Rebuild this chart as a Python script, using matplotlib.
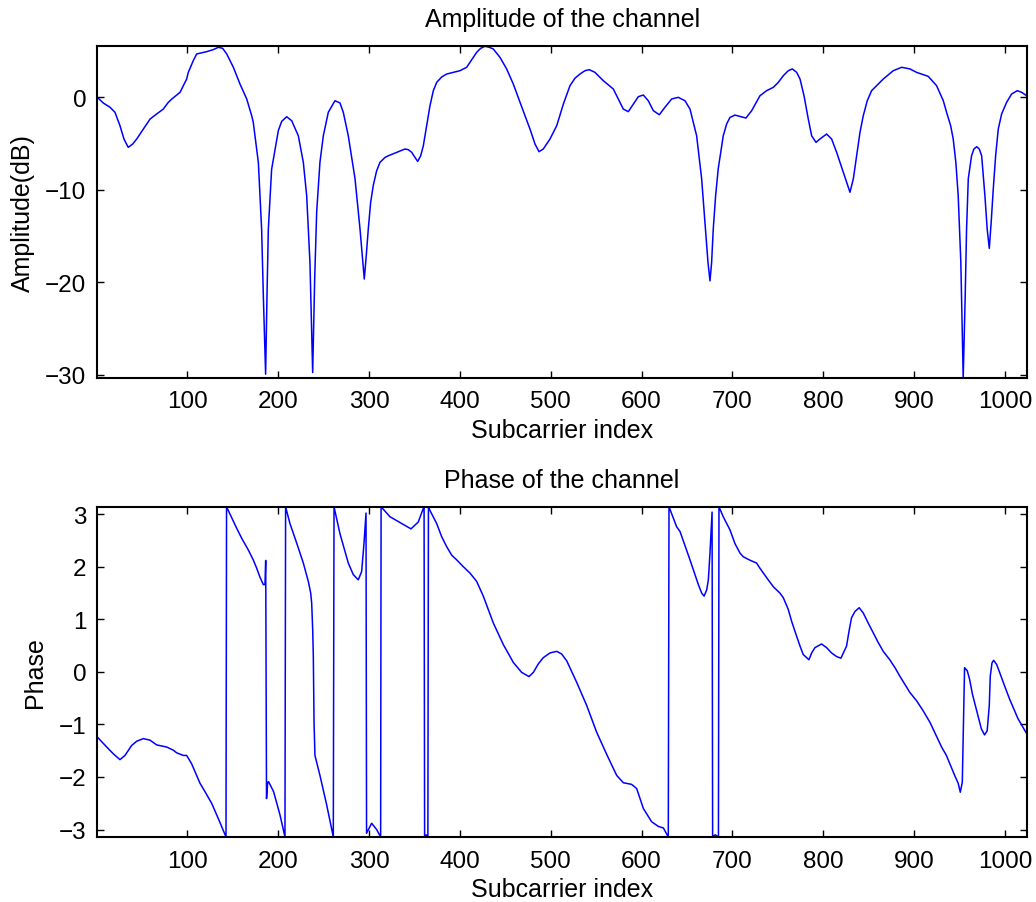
import numpy as np
import matplotlib
matplotlib.use("Agg")
import matplotlib.pyplot as plt

# ---------------- data ----------------
amp_x = [1, 7.6, 15, 20.4, 25.9, 30.3, 35, 39.9, 44.3, 51.6, 59, 66.3, 73.6,
         79.1, 83, 92, 95.6, 99.3, 101.1, 106.6, 110.3, 121.3, 128.6, 134.1,
         138.9, 143.4, 150.7, 158, 165.4, 170.9, 172.6, 178.2, 180, 181.8,
         183.7, 186.2, 187.7, 189.2, 192.8, 200.2, 203.9, 209.4, 214.9, 222.2,
         227.7, 231.4, 235, 238, 240.2, 242.4, 246, 249.7, 255.2, 262.5, 268,
         271.7, 277.2, 284.6, 290.1, 292.6, 294.8, 297, 299.2, 301.8, 304.7,
         308.4, 312.1, 317.6, 321.3, 330.5, 339.6, 343.2, 347, 350.6, 353.6,
         356.9, 359.8, 363.5, 367.1, 370.8, 374.5, 380, 385.5, 392.8, 400.1,
         407.5, 413, 418.5, 422.9, 427.6, 432.4, 436.8, 444.1, 451.5, 458.8,
         466.2, 471.7, 477.2, 482.7, 487.1, 491.8, 499.2, 506.6, 513.9, 521.2,
         526.7, 532.2, 537.7, 542.5, 548.7, 557.9, 568.9, 574.4, 579.9, 585.4,
         590.9, 596.4, 601.9, 607.4, 612.9, 619.5, 625.7, 633.1, 640.4, 647.8,
         653.3, 658.8, 660.6, 666.1, 670.9, 673.1, 675.3, 677.1, 678.9, 681.5,
         684.4, 689.9, 693.6, 697.3, 702.8, 708.3, 714.9, 721.2, 730.3, 737.6,
         745, 750.5, 756, 761.5, 765.9, 770.7, 774.4, 778.8, 783.5, 787.2, 792,
         796.3, 803.7, 809.2, 814.7, 822, 829.4, 833.1, 836.7, 840.4, 844,
         848.4, 853.2, 858.7, 866, 877, 886.2, 895.4, 902.7, 915.5, 924.7,
         932.1, 935.7, 940.2, 943, 945.9, 948.5, 951.4, 954, 956.2, 957.7,
         959.6, 963.2, 965.8, 968.8, 971.7, 974.3, 977.9, 980.4, 982.7, 984.8,
         987.1, 989.7, 992.6, 996.3, 1001.8, 1007.3, 1013.5, 1018.3, 1024]
amp_db = [0, -0.62, -1.08, -1.62, -3.07, -4.51, -5.41, -5.05, -4.51, -3.43,
          -2.35, -1.8, -1.27, -0.54, -0.18, 0.54, 1.26, 1.98, 2.7, 3.97, 4.69,
          4.94, 5.16, 5.41, 5.3, 4.69, 3.25, 1.44, -0.18, -2.0, -2.7, -7.03,
          -10.64, -14.25, -21.5, -29.95, -21.5, -14.25, -7.8, -3.6, -2.6, -2.1,
          -2.53, -4.16, -7.03, -10.64, -17.86, -29.77, -19.66, -12.4, -7.03,
          -4.16, -1.62, -0.37, -0.6, -1.62, -4.16, -8.8, -14.25, -17.1, -19.66,
          -17.1, -14.25, -11.37, -9.52, -7.95, -7.03, -6.5, -6.32, -5.95,
          -5.59, -5.66, -5.95, -6.5, -6.93, -6.32, -5.23, -3.07, -0.91, 0.72,
          1.62, 2.2, 2.52, 2.7, 2.88, 3.25, 4.06, 4.87, 5.3, 5.52, 5.41, 5.23,
          4.33, 3.07, 1.44, -0.54, -1.99, -3.43, -5.05, -5.88, -5.59, -4.51,
          -3.07, -0.73, 1.26, 2.07, 2.52, 2.88, 2.99, 2.7, 1.8, 0.9, -0.18,
          -1.27, -1.55, -0.73, 0.07, 0.25, -0.37, -1.44, -1.88, -1.08, -0.18,
          0.0, -0.37, -1.27, -3.43, -4.16, -8.8, -14.97, -17.86, -19.85,
          -17.86, -14.25, -10.64, -7.71, -4.16, -2.89, -2.17, -1.92, -2.06,
          -2.24, -1.44, 0.17, 0.72, 1.08, 1.62, 2.34, 2.88, 3.07, 2.7, 1.98,
          0.17, -2.35, -4.16, -4.87, -4.51, -3.97, -4.51, -5.95, -8.1, -10.27,
          -8.8, -6.32, -3.79, -1.99, -0.37, 0.72, 1.26, 1.98, 2.88, 3.25, 3.07,
          2.7, 2.27, 1.26, -0.37, -1.62, -3.07, -4.51, -7.03, -10.64, -17.86,
          -30.36, -21.5, -14.25, -8.8, -6.32, -5.59, -5.34, -5.59, -6.32,
          -10.64, -14.25, -16.34, -13.5, -9.9, -6.32, -3.43, -1.8, -0.54, 0.36,
          0.72, 0.54, 0.17]

ph_x = [1, 11.3, 18.6, 25.9, 31.4, 38.8, 44.3, 51.6, 59, 66.3, 77.3, 84.6,
        88.3, 95.6, 99.3, 104.8, 114, 119.5, 126.8, 134.1, 142.6, 143.2,
        154.4, 159.9, 167.1, 172.6, 176.4, 180, 183.7, 185.5, 186.3, 187.2,
        188.5, 189.5, 195, 202, 207.5, 208.2, 213, 220.4, 227.7, 233.2, 235.8,
        236.9, 238, 238.7, 239.5, 240.5, 246, 253.4, 260.7, 261.5, 268, 277.2,
        282.7, 288.2, 291.9, 294.5, 296.7, 297.3, 302.9, 308.4, 312.8, 313.3,
        323.1, 334.1, 346.2, 354.2, 359.8, 360.6, 361.2, 363, 364.8, 365.4,
        367.1, 374.5, 380, 385.5, 391, 396.5, 403.8, 411.1, 418.5, 425.8,
        436.8, 447.8, 458.8, 468, 476.1, 480.9, 486.3, 491.8, 499.2, 506.6,
        512, 517.6, 528.6, 539.6, 550.6, 561.6, 572.6, 580, 589, 594.6, 602,
        611, 618.4, 624, 629.4, 630.2, 638.6, 642.3, 653.3, 662.5, 666.1,
        668.8, 671.7, 673.5, 675.3, 677.6, 678.2, 681, 684.6, 685.2, 689.9,
        697.3, 702.8, 708.3, 711.9, 717.4, 721.1, 726.6, 730.3, 739.4, 745,
        752.2, 756, 761.4, 765.2, 770.6, 774.4, 777.9, 784.2, 787.2, 790.8,
        798.1, 803.7, 809.1, 814.7, 819.4, 825.6, 828.6, 831.1, 834.9, 839.5,
        844, 849.4, 855, 860.4, 866, 873.2, 878.9, 884.2, 889.9, 895.2, 902.7,
        909.9, 917.4, 924.5, 930.2, 935.5, 941.2, 944.6, 948.5, 950.8, 953,
        954.3, 955.5, 958.5, 961, 964.1, 968.4, 973.9, 977.5, 980.4, 982.7,
        983.8, 985.7, 987.5, 990.8, 994.1, 999.6, 1005.1, 1014.3, 1024]
ph_rad = [-1.24, -1.43, -1.56, -1.67, -1.59, -1.40, -1.32, -1.27, -1.30, -1.39,
          -1.43, -1.49, -1.54, -1.59, -1.59, -1.75, -2.12, -2.28, -2.50, -2.79,
          -3.14, 3.14, 2.73, 2.54, 2.32, 2.13, 1.97, 1.80, 1.66, 1.66, 2.12,
          -2.41, -2.10, -2.09, -2.28, -2.72, -3.14, 3.14, 2.82, 2.45, 2.07,
          1.72, 1.50, 1.31, 0.81, 0.30, -0.96, -1.59, -1.97, -2.53, -3.14,
          3.14, 2.63, 2.07, 1.85, 1.75, 1.91, 2.45, 3.02, -3.07, -2.88, -3.00,
          -3.14, 3.14, 2.95, 2.84, 2.72, 2.85, 3.11, 3.14, -3.14, -3.10, -3.14,
          3.14, 3.07, 2.82, 2.57, 2.38, 2.22, 2.13, 2.00, 1.88, 1.72, 1.44,
          0.93, 0.52, 0.18, -0.01, -0.09, -0.01, 0.15, 0.27, 0.36, 0.39, 0.34,
          0.21, -0.20, -0.64, -1.15, -1.57, -1.97, -2.11, -2.14, -2.22, -2.60,
          -2.85, -2.94, -2.97, -3.14, 3.14, 2.76, 2.67, 2.13, 1.66, 1.50, 1.44,
          1.56, 1.75, 2.26, 3.04, -3.14, -3.10, -3.14, 3.14, 2.95, 2.70, 2.44,
          2.26, 2.19, 2.14, 2.11, 2.07, 1.97, 1.75, 1.62, 1.50, 1.41, 1.19,
          0.96, 0.68, 0.49, 0.33, 0.23, 0.36, 0.46, 0.53, 0.46, 0.36, 0.29,
          0.26, 0.49, 0.80, 1.03, 1.15, 1.22, 1.12, 0.93, 0.74, 0.56, 0.39,
          0.23, 0.08, -0.08, -0.24, -0.39, -0.55, -0.74, -0.96, -1.22, -1.43,
          -1.59, -1.83, -1.97, -2.12, -2.29, -2.10, -0.96, 0.08, 0.02, -0.14,
          -0.42, -0.71, -1.08, -1.20, -1.12, -0.64, -0.08, 0.17, 0.22, 0.14,
          -0.01, -0.27, -0.52, -0.89, -1.18]

assert len(amp_x) == len(amp_db)
assert len(ph_x) == len(ph_rad)

x_ticks = [100, 200, 300, 400, 500, 600, 700, 800, 900, 1000]
amp_ticks = [-30, -20, -10, 0]
ph_ticks = [-3, -2, -1, 0, 1, 2, 3]

# ---------------- style ----------------
plt.rcParams['font.family'] = ['Liberation Sans', 'DejaVu Sans']
TICK_FS = 17.5
LABEL_FS = 18

W, H = 1036, 903
fig = plt.figure(figsize=(W / 100, H / 100), dpi=100)

left = 97.35 / W
width = (1026.8 - 97.35) / W
ax1 = fig.add_axes([left, 1 - 379 / H, width, (379 - 47.3) / H])
ax2 = fig.add_axes([left, 1 - 838 / H, width, (838 - 507.7) / H])


def style(ax):
    for s in ax.spines.values():
        s.set_linewidth(1.5)
    ax.tick_params(direction='in', top=True, right=True, length=5, width=1,
                   labelsize=TICK_FS, pad=8)
    ax.tick_params(axis='x', pad=9)
    ax.set_xlim(1, 1024)
    ax.set_xticks(x_ticks)


ax1.plot(amp_x, amp_db, color=(0, 0, 1), lw=1.1)
style(ax1)
ax1.set_ylim(min(amp_db), max(amp_db))
ax1.set_yticks(amp_ticks)
ax1.set_title('Amplitude of the channel', fontsize=LABEL_FS, pad=0,
              y=1 + 20 / 331.7)
ax1.set_xlabel('Subcarrier index', fontsize=LABEL_FS, va='baseline')
ax1.xaxis.set_label_coords(0.5, -59.3 / 331.7)
ax1.set_ylabel('Amplitude(dB)', fontsize=LABEL_FS, va='center')
ax1.yaxis.set_label_coords((23.3 - 97.35) / 929.5, 0.5)

ax2.plot(ph_x, ph_rad, color=(0, 0, 1), lw=1.1)
style(ax2)
ax2.set_ylim(-np.pi, np.pi)
ax2.set_yticks(ph_ticks)
ax2.set_title('Phase of the channel', fontsize=LABEL_FS, pad=0,
              y=1 + 19.7 / 330.3)
ax2.set_xlabel('Subcarrier index', fontsize=LABEL_FS, va='baseline')
ax2.xaxis.set_label_coords(0.5, -59 / 330.3)
ax2.set_ylabel('Phase', fontsize=LABEL_FS, va='center')
ax2.yaxis.set_label_coords((34.7 - 97.35) / 929.5, 0.5)

fig.savefig('out.png', dpi=100)
